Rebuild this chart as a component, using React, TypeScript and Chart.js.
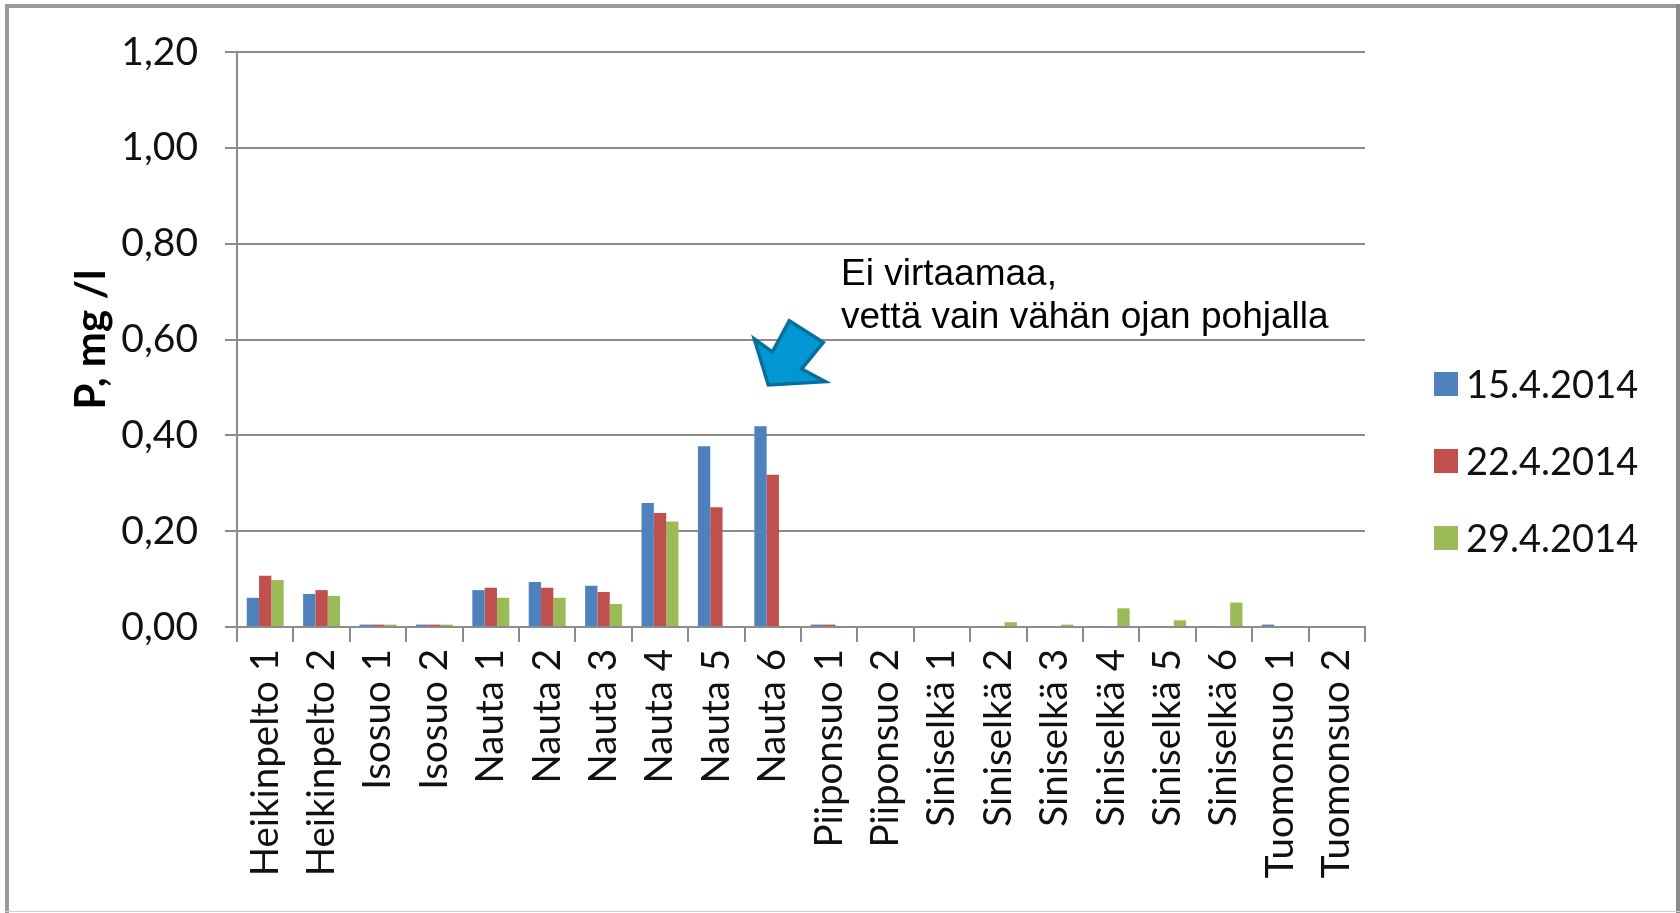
import React, { useEffect, useRef } from "react";
import { Chart, registerables } from "chart.js";

Chart.register(...registerables);

// ---- data ----
const categories = [
  "Heikinpelto 1", "Heikinpelto 2", "Isosuo 1", "Isosuo 2",
  "Nauta 1", "Nauta 2", "Nauta 3", "Nauta 4", "Nauta 5", "Nauta 6",
  "Piiponsuo 1", "Piiponsuo 2",
  "Siniselkä 1", "Siniselkä 2", "Siniselkä 3", "Siniselkä 4", "Siniselkä 5", "Siniselkä 6",
  "Tuomonsuo 1", "Tuomonsuo 2",
];
const seriesLabels = ["15.4.2014", "22.4.2014", "29.4.2014"];
const values1504 = [0.061, 0.069, 0.005, 0.005, 0.077, 0.094, 0.086, 0.259, 0.377, 0.419, 0.005, null, null, null, null, null, null, null, 0.005, null];
const values2204 = [0.107, 0.077, 0.005, 0.005, 0.082, 0.082, 0.073, 0.238, 0.250, 0.318, 0.005, null, null, null, null, null, null, null, null, null];
const values2904 = [0.098, 0.065, 0.005, 0.005, 0.061, 0.061, 0.048, 0.220, null, null, null, null, null, 0.010, 0.005, 0.039, 0.014, 0.051, null, null];
const seriesColors = ["#4F81BD", "#C0504D", "#9BBB59"];
const yMin = 0;
const yMax = 1.2;
const yStep = 0.2;
const yTitle = "P, mg /l";
const noteLines = ["Ei virtaamaa,", "vettä vain vähän ojan pohjalla"];
const noteCategory = "Nauta 6";
const noteValue = 0.505;

const W = 1680;
const H = 913;
const FONT = "Lato, 'Open Sans', sans-serif";
const GRID = "#8c8c8c";

const framePlugin = {
  id: "frame",
  beforeDraw(chart: any) {
    const ctx = chart.ctx;
    ctx.save();
    ctx.fillStyle = "#ffffff";
    ctx.fillRect(0, 0, chart.width, chart.height);
    ctx.restore();
  },
  afterDraw(chart: any) {
    const ctx = chart.ctx;
    ctx.save();
    ctx.fillStyle = "#9a9a9a";
    ctx.fillRect(5, 4, 4, H - 4); // left
    ctx.fillRect(5, 4, W - 5, 4); // top
    ctx.fillStyle = "#8a8a8a";
    ctx.fillRect(W - 4, 4, 4, H - 4); // right
    ctx.fillStyle = "#cfcfcf";
    ctx.fillRect(5, H - 2, W - 5, 1); // bottom
    ctx.restore();
  },
};

const legendPlugin = {
  id: "sideLegend",
  afterDraw(chart: any) {
    const ctx = chart.ctx;
    const area = chart.chartArea;
    const boxX = area.right + 69;
    const size = 24;
    const fs = 38;
    ctx.save();
    ctx.font = `${fs}px ${FONT}`;
    ctx.textAlign = "left";
    ctx.textBaseline = "alphabetic";
    chart.data.datasets.forEach((ds: any, i: number) => {
      const cy = 384 + i * 77;
      ctx.fillStyle = ds.backgroundColor;
      ctx.fillRect(boxX, cy - size / 2, size, size);
      ctx.fillStyle = "#111111";
      ctx.fillText(ds.label, boxX + 32, cy + fs * 0.36);
    });
    ctx.restore();
  },
};

const arrowPlugin = {
  id: "noteArrow",
  afterDraw(chart: any) {
    const ctx = chart.ctx;
    const xs = chart.scales.x;
    const ys = chart.scales.y;
    const tx = xs.getPixelForValue(categories.indexOf(noteCategory)) - 4.5;
    const ty = ys.getPixelForValue(noteValue);
    const pts = [
      [0, 0], [-14, -46], [4, -33], [21, -64.3],
      [55, -42.7], [33.4, -16], [57, -3.3],
    ];
    ctx.save();
    ctx.beginPath();
    pts.forEach(([dx, dy], i) => {
      if (i === 0) ctx.moveTo(tx + dx, ty + dy);
      else ctx.lineTo(tx + dx, ty + dy);
    });
    ctx.closePath();
    ctx.fillStyle = "#0097D2";
    ctx.fill();
    ctx.lineWidth = 3.5;
    ctx.lineJoin = "miter";
    ctx.strokeStyle = "#0A6E9C";
    ctx.stroke();
    ctx.restore();
  },
};

export default function App() {
  const ref = useRef<HTMLCanvasElement | null>(null);

  useEffect(() => {
    if (!ref.current) return;
    const seriesValues = [values1504, values2204, values2904];
    const chart = new Chart(ref.current, {
      type: "bar",
      data: {
        labels: categories,
        datasets: seriesLabels.map((label, i) => ({
          label,
          data: seriesValues[i],
          backgroundColor: seriesColors[i],
          borderWidth: 0,
          categoryPercentage: 0.655,
          barPercentage: 1,
        })),
      },
      options: {
        animation: false,
        responsive: false,
        devicePixelRatio: 1,
        layout: { padding: { top: 52, right: 315, bottom: 0, left: 0 } },
        plugins: {
          legend: { display: false },
          tooltip: { enabled: false },
        },
        scales: {
          x: {
            offset: true,
            grid: {
              display: true,
              drawOnChartArea: false,
              drawTicks: true,
              tickLength: 15,
              color: GRID,
              lineWidth: 2,
              offset: true,
            },
            border: { display: true, color: GRID, width: 2 },
            ticks: {
              autoSkip: false,
              minRotation: 90,
              maxRotation: 90,
              padding: 7,
              color: "#111111",
              font: { family: FONT, size: 38.5 },
            },
            afterFit: (scale: any) => {
              scale.height = H - 627;
            },
          },
          y: {
            min: yMin,
            max: yMax,
            grid: {
              color: GRID,
              lineWidth: 2,
              drawTicks: true,
              tickLength: 12,
            },
            border: { display: true, color: GRID, width: 2 },
            ticks: {
              stepSize: yStep,
              padding: 27,
              color: "#111111",
              font: { family: FONT, size: 39 },
              callback: (v: any) => Number(v).toFixed(2).replace(".", ","),
            },
            title: {
              display: true,
              text: yTitle,
              color: "#000000",
              font: { family: FONT, size: 42, weight: "bold" },
              padding: { top: 65.8, bottom: 0 },
            },
            afterFit: (scale: any) => {
              scale.width = 237;
            },
          },
        },
      },
      plugins: [framePlugin, legendPlugin, arrowPlugin],
    });
    return () => chart.destroy();
  }, []);

  return (
    <div style={{ position: "absolute", left: 0, top: 0, width: W, height: H, background: "#fff", overflow: "hidden" }}>
      <canvas ref={ref} width={W} height={H} style={{ display: "block", width: W, height: H }} />
      <div
        style={{
          position: "absolute",
          left: 841,
          top: 251,
          fontFamily: "'Liberation Sans', Arial, sans-serif",
          fontSize: 37,
          lineHeight: "43px",
          color: "#000",
          whiteSpace: "nowrap",
        }}
      >
        {noteLines.map((t, i) => (
          <div key={i}>{t}</div>
        ))}
      </div>
    </div>
  );
}
